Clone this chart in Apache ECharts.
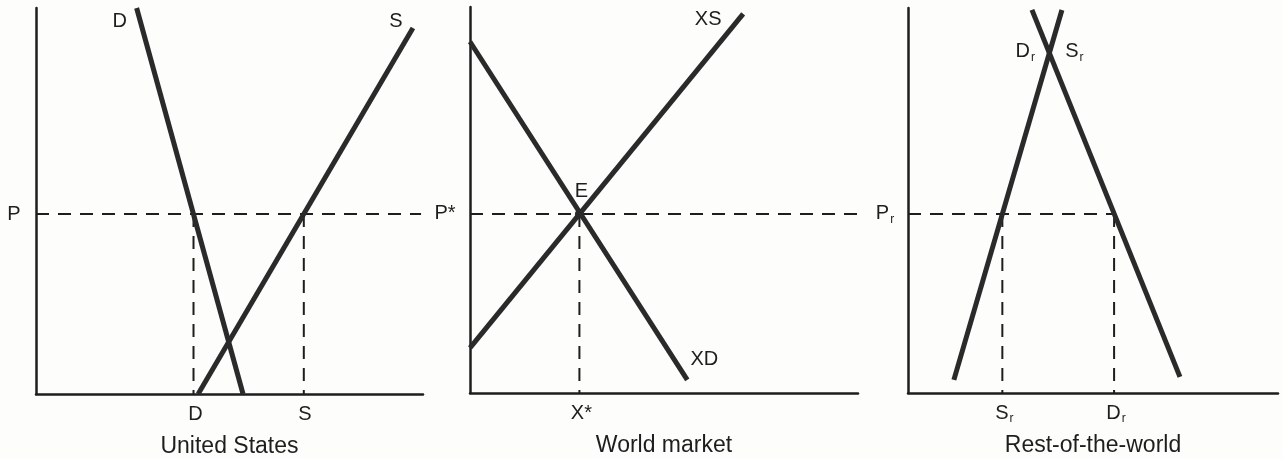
<!DOCTYPE html>
<html>
<head>
<meta charset="utf-8">
<script src="https://cdn.jsdelivr.net/npm/echarts@6/dist/echarts.min.js"></script>
<style>
html,body{margin:0;padding:0;background:#fdfdfb;}
#chart{width:1283px;height:459px;}
</style>
</head>
<body>
<div id="chart"></div>
<script>
// ---- Data (abstract units, 0-100 on each axis) ----
const panelTitles = ['United States', 'World market', 'Rest-of-the-world'];
// United States
const usDemand = [[26, 100], [53.5, 0]];
const usSupply = [[41.9, 0], [97.4, 94.8]];
const usPrice = 46.6;
const usQtyD = 40.7;
const usQtyS = 69.2;
// World market
const xdCurve = [[0, 91], [56, 3.4]];
const xsCurve = [[0, 11.7], [70.4, 98.2]];
const worldPrice = 46.4;
const worldQty = 28.2;
// Rest of the world
const rowDemand = [[33.5, 99.5], [73.5, 4.2]];
const rowSupply = [[12.4, 3.4], [41.6, 99.5]];
const rowPrice = 46.5;
const rowQtyS = 25.5;
const rowQtyD = 55.7;
const rowCross = [38.2, 87.8];
// Labels
const priceLabels = ['P', 'P*', 'P_r'];
const usQtyLabels = ['D', 'S'];
const worldQtyLabels = ['X*'];
const rowQtyLabels = ['S_r', 'D_r'];
const usCurveLabels = ['D', 'S'];
const worldCurveLabels = ['XD', 'XS', 'E'];
const rowCurveLabels = ['D_r', 'S_r'];

// ---- Styles ----
const INK = '#1e1e1e';
const FONT = 'Liberation Sans, Arial, Helvetica, sans-serif';
const rich = {
  a: {fontSize: 20, fontFamily: FONT, color: INK, lineHeight: 24},
  s: {fontSize: 12, fontFamily: FONT, color: INK, lineHeight: 24, padding: [11, 0, 0, 1]}
};
function fmt(t) {
  if (t.indexOf('_') >= 0) {
    const p = t.split('_');
    return '{a|' + p[0] + '}{s|' + p[1] + '}';
  }
  return '{a|' + t + '}';
}

const grids = [
  {left: 36, top: 8, width: 387, height: 386, outerBoundsMode: 'none', containLabel: false},
  {left: 470, top: 7, width: 388, height: 386, outerBoundsMode: 'none', containLabel: false},
  {left: 908, top: 8, width: 370, height: 385, outerBoundsMode: 'none', containLabel: false}
];

const xAxes = grids.map((g, i) => ({
  gridIndex: i, type: 'value', min: 0, max: 100,
  axisLine: {show: true, onZero: false, lineStyle: {color: INK, width: 2.5}},
  axisTick: {show: false}, axisLabel: {show: false}, splitLine: {show: false},
  name: panelTitles[i], nameLocation: 'middle', nameGap: 41,
  nameTextStyle: {fontSize: 23, fontFamily: FONT, color: INK}
}));
const yAxes = grids.map((g, i) => ({
  gridIndex: i, type: 'value', min: 0, max: 100,
  axisLine: {show: true, onZero: false, lineStyle: {color: INK, width: 2.5}},
  axisTick: {show: false}, axisLabel: {show: false}, splitLine: {show: false}
}));

function curve(i, data) {
  return {type: 'line', xAxisIndex: i, yAxisIndex: i, data: data, symbol: 'none',
    lineStyle: {color: '#2a2a2a', width: 5, cap: 'butt'}, z: 3, silent: true, animation: false};
}
function dashed(i, data) {
  return {type: 'line', xAxisIndex: i, yAxisIndex: i, data: data, symbol: 'none',
    lineStyle: {color: INK, width: 2, type: [13, 9]}, z: 2, silent: true, animation: false};
}
function text(i, pt, label, offset) {
  return {type: 'scatter', xAxisIndex: i, yAxisIndex: i, data: [pt], symbolSize: 0,
    silent: true, animation: false, z: 5, itemStyle: {opacity: 1},
    label: {show: true, position: 'inside', formatter: fmt(label), rich: rich, opacity: 1,
      color: INK, offset: offset, align: 'center', verticalAlign: 'middle'}};
}

const series = [
  // United States
  curve(0, usDemand), curve(0, usSupply),
  dashed(0, [[0, usPrice], [99.5, usPrice]]),
  dashed(0, [[usQtyD, usPrice], [usQtyD, 0]]),
  dashed(0, [[usQtyS, usPrice], [usQtyS, 0]]),
  text(0, [0, usPrice], priceLabels[0], [-22, 0]),
  text(0, [usQtyD, 0], usQtyLabels[0], [2, 20]),
  text(0, [usQtyS, 0], usQtyLabels[1], [1, 20]),
  text(0, usDemand[0], usCurveLabels[0], [-17, 13]),
  text(0, usSupply[1], usCurveLabels[1], [-17, -7]),
  // World market
  curve(1, xdCurve), curve(1, xsCurve),
  dashed(1, [[0, worldPrice], [100, worldPrice]]),
  dashed(1, [[worldQty, worldPrice], [worldQty, 0]]),
  {type: 'scatter', xAxisIndex: 1, yAxisIndex: 1, data: [[worldQty, worldPrice]], symbolSize: 9,
    itemStyle: {color: '#2a2a2a', opacity: 1}, silent: true, animation: false, z: 4},
  text(1, [0, worldPrice], priceLabels[1], [-25, 0]),
  text(1, [worldQty, 0], worldQtyLabels[0], [2, 20]),
  text(1, xdCurve[1], worldCurveLabels[0], [17, -20]),
  text(1, xsCurve[1], worldCurveLabels[1], [-35, 6]),
  text(1, [worldQty, worldPrice], worldCurveLabels[2], [2, -22]),
  // Rest of the world
  curve(2, rowDemand), curve(2, rowSupply),
  dashed(2, [[0, rowPrice], [rowQtyD, rowPrice]]),
  dashed(2, [[rowQtyS, rowPrice], [rowQtyS, 0]]),
  dashed(2, [[rowQtyD, rowPrice], [rowQtyD, 0]]),
  text(2, [0, rowPrice], priceLabels[2], [-23, 0]),
  text(2, [rowQtyS, 0], rowQtyLabels[0], [2, 20]),
  text(2, [rowQtyD, 0], rowQtyLabels[1], [2, 20]),
  text(2, rowCross, rowCurveLabels[0], [-24, -3]),
  text(2, rowCross, rowCurveLabels[1], [25, -3])
];

const chart = echarts.init(document.getElementById('chart'), null, {renderer: 'canvas'});
chart.setOption({
  backgroundColor: '#fdfdfb',
  animation: false,
  grid: grids,
  xAxis: xAxes,
  yAxis: yAxes,
  series: series
});
</script>
</body>
</html>
